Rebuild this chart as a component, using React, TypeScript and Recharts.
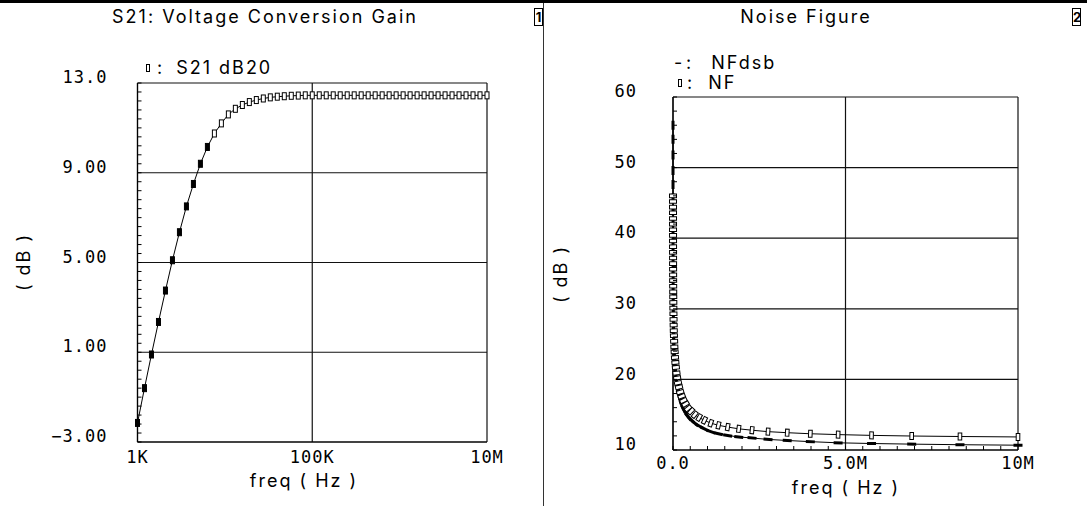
import React from "react";
import { LineChart, Line, XAxis, YAxis, ReferenceLine } from "recharts";

// sweep points (Hz), log spaced
const freqHz = [
  1000, 1202, 1445, 1738, 2089, 2512, 3020, 3631, 4365, 5248, 6310, 7586, 9120,
  10965, 13183, 15849, 19055, 22909, 27542, 33113, 39811, 47863, 57544, 69183,
  83176, 100000, 120226, 144544, 173780, 208930, 251189, 301995, 363078, 436516,
  524807, 630957, 758578, 912011, 1096478, 1318257, 1584893, 1905461, 2290868,
  2754229, 3311311, 3981072, 4786301, 5754399, 6918310, 8317638, 10000000,
];

const s21Db20 = [
  -2.15, -0.6, 0.9, 2.35, 3.75, 5.1, 6.35, 7.5, 8.5, 9.4, 10.15, 10.75, 11.2,
  11.6, 11.85, 12.02, 12.15, 12.24, 12.31, 12.36, 12.39, 12.41, 12.43, 12.44,
  12.45, 12.45, 12.45, 12.45, 12.45, 12.45, 12.45, 12.45, 12.45, 12.45, 12.45,
  12.45, 12.45, 12.45, 12.45, 12.45, 12.45, 12.45, 12.45, 12.45, 12.45, 12.45,
  12.45, 12.45, 12.45, 12.45, 12.45,
];

// noise sweep starts a bit lower
const nfFreqHz = [275, 331, 398, 479, 575, 692, 832, ...freqHz];

const nfDb = [
  46.0, 45.2, 44.4, 43.6, 42.8, 42.0, 41.2,
  40.4, 39.6, 38.8, 38.0, 37.2, 36.4, 35.6, 34.8, 34.0, 33.2, 32.4, 31.7, 30.9,
  30.1, 29.3, 28.5, 27.7, 26.9, 26.2, 25.4, 24.6, 23.9, 23.1, 22.4, 21.7, 20.9,
  20.2, 19.5, 18.9, 18.2, 17.6, 17.0, 16.5, 15.9, 15.5, 15.0, 14.6, 14.2, 13.8,
  13.5, 13.25, 13.0, 12.8, 12.6, 12.45, 12.3, 12.18, 12.07, 11.98, 11.91, 11.85,
];

const nfDsbDb = [
  56.0, 54.0, 51.8, 49.6, 47.6, 45.7, 43.9,
  42.3, 40.8, 39.4, 38.1, 36.8, 35.6, 34.5, 33.6, 32.8, 32.0, 31.2, 30.5, 29.7,
  28.9, 28.1, 27.3, 26.5, 25.7, 25.0, 24.2, 23.4, 22.7, 21.9, 21.2, 20.5, 19.7,
  19.0, 18.3, 17.7, 17.0, 16.4, 15.8, 15.3, 14.7, 14.3, 13.8, 13.4, 13.0, 12.6,
  12.3, 12.05, 11.85, 11.7, 11.5, 11.35, 11.18, 11.02, 10.92, 10.83, 10.75, 10.68,
];

const s21XTicks = [1000, 100000, 10000000];
const s21XLabels = ["1K", "100K", "10M"];
const s21YTicks = [-3, 1, 5, 9, 13];
const s21YLabels = ["\u22123.00", "1.00", "5.00", "9.00", "13.0"];
const s21YMinor = [
  -3, -2.6, -2.2, -1.8, -1.4, -1, -0.6, -0.2, 0.2, 0.6, 1, 1.4, 1.8, 2.2, 2.6,
  3, 3.4, 3.8, 4.2, 4.6, 5, 5.4, 5.8, 6.2, 6.6, 7, 7.4, 7.8, 8.2, 8.6, 9, 9.4,
  9.8, 10.2, 10.6, 11, 11.4, 11.8, 12.2, 12.6, 13,
];

const nfXTicks = [0, 5000000, 10000000];
const nfXLabels = ["0.0", "5.0M", "10M"];
const nfYTicks = [10, 20, 30, 40, 50, 60];
const nfYLabels = ["10", "20", "30", "40", "50", "60"];
const nfXMinor = [
  0, 500000, 1000000, 1500000, 2000000, 2500000, 3000000, 3500000, 4000000,
  4500000, 5000000, 5500000, 6000000, 6500000, 7000000, 7500000, 8000000,
  8500000, 9000000, 9500000, 10000000,
];
const nfYMinor = [
  10, 12, 14, 16, 18, 20, 22, 24, 26, 28, 30, 32, 34, 36, 38, 40, 42, 44, 46,
  48, 50, 52, 54, 56, 58, 60,
];

const s21Data = freqHz.map((f, i) => ({ f, s21: s21Db20[i] }));
const nfData = nfFreqHz.map((f, i) => ({ f, nf: nfDb[i], nfdsb: nfDsbDb[i] }));

const FONT = "Inter, 'DejaVu Sans', sans-serif";
const NUMFONT = "'DejaVu Sans Mono', monospace";
const gridStroke = "#111";

// y ticks: small inward mark on every minor value, label on majors only
const makeYTick = (ticks: number[], labels: string[], gap: number) => (p: any) => {
  const v = p.payload.value;
  const k = ticks.indexOf(v);
  const ax = p.x + gap;
  return (
    <g key={`yt-${v}`}>
      <line x1={ax} x2={ax + 4} y1={p.y} y2={p.y} stroke="#000" strokeWidth={1} />
      {k >= 0 && (
        <text x={p.x} y={p.y - 6} dy="0.36em" textAnchor="end" fill="#000"
          fontSize={17} fontFamily={NUMFONT} letterSpacing={1}>
          {labels[k]}
        </text>
      )}
    </g>
  );
};

const makeXTick = (ticks: number[], labels: string[], gap: number, marks: boolean) => (p: any) => {
  const v = p.payload.value;
  const k = ticks.indexOf(v);
  const ay = p.y - gap;
  return (
    <g key={`xt-${v}`}>
      {marks && <line x1={p.x} x2={p.x} y1={ay} y2={ay - 4} stroke="#000" strokeWidth={1} />}
      {k >= 0 && (
        <text x={p.x} y={p.y} dy="0.71em" textAnchor="middle" fill="#000"
          fontSize={17} fontFamily={NUMFONT} letterSpacing={1}>
          {labels[k]}
        </text>
      )}
    </g>
  );
};

function lineAngle(props: any) {
  const { index, points } = props;
  if (!points || points.length < 2) return 0;
  const a = points[Math.max(0, index - 1)];
  const b = points[Math.min(points.length - 1, index + 1)];
  if (!a || !b) return 0;
  return (Math.atan2(b.y - a.y, b.x - a.x) * 180) / Math.PI;
}

// on the steep part the boxes blot solid, as in the plotter output
const BoxDot = (props: any) => {
  const { cx, cy, index } = props;
  if (cx == null || cy == null) return <g key={`bx-${index}`} />;
  const steep = Math.abs(lineAngle(props)) > 60;
  return (
    <rect key={`bx-${index}`} x={cx - 2} y={cy - 3.5} width={4} height={7}
      fill={steep ? "#000" : "#fff"} stroke="#000" strokeWidth={1} />
  );
};

const TurnedBoxDot = (props: any) => {
  const { cx, cy, index } = props;
  if (cx == null || cy == null) return <g key={`tb-${index}`} />;
  const ang = lineAngle(props);
  return (
    <rect key={`tb-${index}`} x={cx - 1.8} y={cy - 3.5} width={3.6} height={7}
      fill="#fff" stroke="#000" strokeWidth={1}
      transform={`rotate(${ang} ${cx} ${cy})`} />
  );
};

const DashDot = (props: any) => {
  const { cx, cy, index } = props;
  if (cx == null || cy == null) return <g key={`ds-${index}`} />;
  const ang = lineAngle(props);
  return (
    <rect key={`ds-${index}`} x={cx - 4.5} y={cy - 1.5} width={9} height={3}
      fill="#000" transform={`rotate(${ang} ${cx} ${cy})`} />
  );
};

const txt: React.CSSProperties = {
  position: "absolute",
  fontFamily: FONT,
  fontSize: 18,
  lineHeight: "18px",
  letterSpacing: 2,
  color: "#000",
  whiteSpace: "nowrap",
};

const PanelNo = ({ n, left }: { n: string; left: number }) => (
  <div style={{
    position: "absolute", left, top: 8, width: 7, height: 16,
    border: "1.5px solid #000", fontFamily: FONT, fontSize: 13,
    fontWeight: 700, lineHeight: "16px", textAlign: "center",
  }}>{n}</div>
);

export default function App() {
  return (
    <div style={{
      position: "absolute", left: 0, top: 0, width: 1087, height: 506,
      background: "#fff", overflow: "hidden", fontFamily: FONT,
    }}>
      <div style={{ position: "absolute", left: 0, top: 0, width: 1087, height: 3, background: "#000" }} />
      <div style={{ position: "absolute", left: 543, top: 3, width: 1, height: 503, background: "#333" }} />
      <PanelNo n="1" left={534} />
      <PanelNo n="2" left={1072} />

      {/* left panel */}
      <div style={{ ...txt, left: 265, top: 8, transform: "translateX(-50%)" }}>
        S21: Voltage Conversion Gain
      </div>
      <div style={{ ...txt, left: 146, top: 59, display: "flex", alignItems: "center" }}>
        <span style={{ display: "inline-block", width: 2, height: 6, border: "1px solid #000" }} />
        <span style={{ marginLeft: 7 }}>:</span>
        <span style={{ marginLeft: 12 }}>S21 dB20</span>
      </div>
      <div style={{ ...txt, left: 24, top: 262, transform: "translate(-50%, -50%) rotate(-90deg)" }}>
        ( dB )
      </div>
      <div style={{ ...txt, left: 304, top: 472, transform: "translateX(-50%)" }}>
        freq ( Hz )
      </div>
      <div style={{ position: "absolute", left: 0, top: 0 }}>
        <LineChart width={543} height={506} data={s21Data}
          margin={{ top: 83, right: 56, bottom: 0, left: 0 }}>
          {s21YTicks.map((v) => (
            <ReferenceLine key={`gy${v}`} y={v} stroke={gridStroke} strokeWidth={1.2} />
          ))}
          {s21XTicks.map((v) => (
            <ReferenceLine key={`gx${v}`} x={v} stroke={gridStroke} strokeWidth={1.2} />
          ))}
          <XAxis dataKey="f" type="number" scale="log" domain={[1000, 10000000]}
            ticks={s21XTicks} interval={0} height={64}
            axisLine={{ stroke: "#000", strokeWidth: 1.2 }} tickLine={false}
            tickSize={0} tickMargin={9}
            tick={makeXTick(s21XTicks, s21XLabels, 9, false)} />
          <YAxis type="number" domain={[-3, 13]} ticks={s21YMinor} interval={0}
            width={137.5} axisLine={{ stroke: "#000", strokeWidth: 1.2 }}
            tickLine={false} tickSize={0} tickMargin={30}
            tick={makeYTick(s21YTicks, s21YLabels, 30)} />
          <Line dataKey="s21" type="linear" stroke="#000" strokeWidth={1}
            dot={BoxDot} activeDot={false} isAnimationActive={false} />
        </LineChart>
      </div>

      {/* right panel */}
      <div style={{ ...txt, left: 806, top: 8, transform: "translateX(-50%)" }}>
        Noise Figure
      </div>
      <div style={{ ...txt, left: 674, top: 54, display: "flex", alignItems: "center" }}>
        <span style={{ width: 10 }}>-</span>
        <span style={{ marginLeft: 2 }}>:</span>
        <span style={{ marginLeft: 18 }}>NFdsb</span>
      </div>
      <div style={{ ...txt, left: 678, top: 74, display: "flex", alignItems: "center" }}>
        <span style={{ display: "inline-block", width: 2, height: 6, border: "1px solid #000" }} />
        <span style={{ marginLeft: 5 }}>:</span>
        <span style={{ marginLeft: 14 }}>NF</span>
      </div>
      <div style={{ ...txt, left: 561, top: 274, transform: "translate(-50%, -50%) rotate(-90deg)" }}>
        ( dB )
      </div>
      <div style={{ ...txt, left: 846, top: 479, transform: "translateX(-50%)" }}>
        freq ( Hz )
      </div>
      <div style={{ position: "absolute", left: 543, top: 0 }}>
        <LineChart width={544} height={506} data={nfData}
          margin={{ top: 97, right: 69, bottom: 0, left: 0 }}>
          {nfYTicks.map((v) => (
            <ReferenceLine key={`gy${v}`} y={v} stroke={gridStroke} strokeWidth={1.2} />
          ))}
          {nfXTicks.map((v) => (
            <ReferenceLine key={`gx${v}`} x={v} stroke={gridStroke} strokeWidth={1.2} />
          ))}
          <XAxis dataKey="f" type="number" domain={[0, 10000000]}
            ticks={nfXMinor} interval={0} height={56}
            axisLine={{ stroke: "#000", strokeWidth: 1.2 }} tickLine={false}
            tickSize={0} tickMargin={7}
            tick={makeXTick(nfXTicks, nfXLabels, 7, true)} />
          <YAxis type="number" domain={[10, 60]} ticks={nfYMinor} interval={0}
            width={130} axisLine={{ stroke: "#000", strokeWidth: 1.2 }}
            tickLine={false} tickSize={0} tickMargin={36}
            tick={makeYTick(nfYTicks, nfYLabels, 36)} />
          <Line dataKey="nfdsb" type="linear" stroke="#000" strokeWidth={1}
            dot={DashDot} activeDot={false} isAnimationActive={false} />
          <Line dataKey="nf" type="linear" stroke="#000" strokeWidth={1}
            dot={TurnedBoxDot} activeDot={false} isAnimationActive={false} />
        </LineChart>
      </div>
    </div>
  );
}
